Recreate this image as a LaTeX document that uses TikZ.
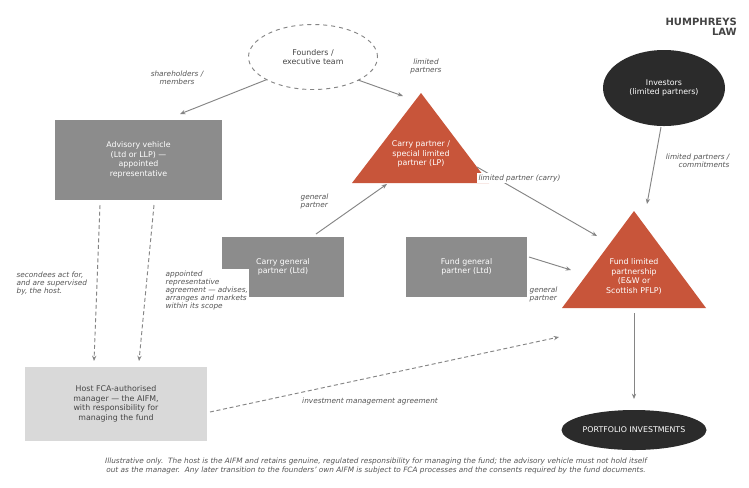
\documentclass[tikz,border=0pt]{standalone}
\usepackage{fontspec}
\setmainfont{DejaVu Sans}
\usetikzlibrary{arrows.meta,calc,shapes.geometric}
\definecolor{rust}{HTML}{C8553A}
\definecolor{boxgray}{HTML}{8C8C8C}
\definecolor{hostgray}{HTML}{D9D9D9}
\definecolor{ink}{HTML}{2B2B2B}
\definecolor{linegray}{HTML}{858585}
\definecolor{labelgray}{HTML}{555555}
\definecolor{textdark}{HTML}{444444}
\begin{document}
\begin{tikzpicture}[x=0.75pt,y=-0.75pt,
  nodetext/.style={font=\fontsize{5.9}{7.1}\selectfont, align=center, inner sep=0pt, outer sep=0pt},
  darkbox/.style={rectangle, fill=boxgray, text=white, nodetext},
  darkoval/.style={ellipse, fill=ink, text=white, nodetext},
  tritext/.style={nodetext, text=white},
  lbl/.style={font=\fontsize{5.5}{6}\selectfont\itshape, text=labelgray, inner sep=1pt},
  arr/.style={draw=linegray, line width=0.7pt, -{Stealth[length=4pt,width=3.2pt]}},
  darr/.style={arr, dash pattern=on 3pt off 2pt},
]
\useasboundingbox (0,0) rectangle (749,487);
\fill[white] (0,0) rectangle (749,487);

% title
\node[anchor=north east, align=right, font=\fontsize{7.5}{7.6}\selectfont\bfseries, text=textdark, inner sep=0pt] (brand) at (737,18) {HUMPHREYS\\LAW};

% nodes
\node[ellipse, draw=linegray, dashed, line width=0.7pt, nodetext, text=textdark,
      minimum width=96.75pt, minimum height=48.75pt] (founders) at (313,57) {Founders /\\executive team};
\node[darkoval, minimum width=91.5pt, minimum height=57pt] (investors) at (664,88) {Investors\\(limited partners)};
\node[darkbox, minimum width=125.25pt, minimum height=60pt] (adv) at (138.5,160) {Advisory vehicle\\(Ltd or LLP) —\\appointed\\representative};
\node[darkbox, minimum width=91.5pt, minimum height=45pt] (cgp) at (283,267) {Carry general\\partner (Ltd)};
\node[darkbox, minimum width=90.75pt, minimum height=45pt] (fgp) at (466.5,267) {Fund general\\partner (Ltd)};
\node[rectangle, fill=hostgray, text=textdark, nodetext, minimum width=136.5pt, minimum height=55.5pt] (host) at (116,404) {Host FCA-authorised\\manager — the AIFM,\\with responsibility for\\managing the fund};
\node[darkoval, minimum width=102.75pt, minimum height=30pt] (portfolio) at (634,430) {PORTFOLIO INVESTMENTS};

% triangles
\coordinate (clpapex) at (421,93);
\coordinate (flpapex) at (634,211);
\fill[rust] (clpapex) -- (489,183) -- (352,183) -- cycle;
\fill[rust] (flpapex) -- (706,308) -- (562,308) -- cycle;
\node[tritext] (clp) at (421,154) {Carry partner /\\special limited\\partner (LP)};
\node[tritext] (flp) at (634,276.5) {Fund limited\\partnership\\(E\&W or\\Scottish PFLP)};

% connectors
\draw[arr] (founders.206) -- ($(adv.north)+(41.5,-6)$);
\draw[arr] (founders.-27) -- ($(clpapex)+(-18,3)$);
\draw[arr] ($(cgp.north)+(33,-3)$) -- ($(clpapex)+(-34,91)$);
\draw[arr] ($(clpapex)+(56,74)$) -- ($(flpapex)+(-37,25)$);
\draw[arr] ($(investors.south)+(-3,1)$) -- ($(flpapex)+(13,-7)$);
\draw[arr] ($(fgp.east)+(2,-10)$) -- ($(flpapex)+(-63,59)$);
\draw[arr] ($(flpapex)+(0,102)$) -- ($(portfolio.north)+(0,-11)$);
\draw[darr] ($(adv.south)+(-38.5,5)$) -- ($(host.north)+(-22,-6)$);
\draw[darr] ($(adv.south)+(15.5,5)$) -- ($(host.north)+(23,-6)$);
\draw[darr] ($(host.east)+(3,8)$) -- ($(flpapex)+(-75,126)$);

% labels
\node[lbl, align=center] (lsh) at (177,78) {shareholders /\\members};
\node[lbl, align=center] (llp) at (426,66) {limited\\partners};
\node[lbl, align=left, anchor=west] (lgp1) at (299,201) {general\\partner};
\node[lbl, anchor=west, fill=white] (lcarry) at (477,178) {limited partner (carry)};
\node[lbl, align=right, anchor=east] (lcom) at (731,161) {limited partners /\\commitments};
\node[lbl, align=left, anchor=west] (lgp2) at (528,294) {general\\partner};
\node[lbl, align=left, anchor=west] (lsec) at (15,283) {secondees act for,\\and are supervised\\by, the host.};
\node[lbl, align=left, anchor=west, fill=white] (lar) at (164,290) {appointed\\representative\\agreement — advises,\\arranges and markets\\within its scope};
\node[lbl] (lima) at (370,401) {investment management agreement};

% caption
\node[font=\fontsize{5.5}{6.2}\selectfont\itshape, text=labelgray, align=center, inner sep=0pt] (caption) at (376,466)
  {Illustrative only.\ \ The host is the AIFM and retains genuine, regulated responsibility for managing the fund; the advisory vehicle must not hold itself\\out as the manager.\ \ Any later transition to the founders' own AIFM is subject to FCA processes and the consents required by the fund documents.};
\end{tikzpicture}
\end{document}
